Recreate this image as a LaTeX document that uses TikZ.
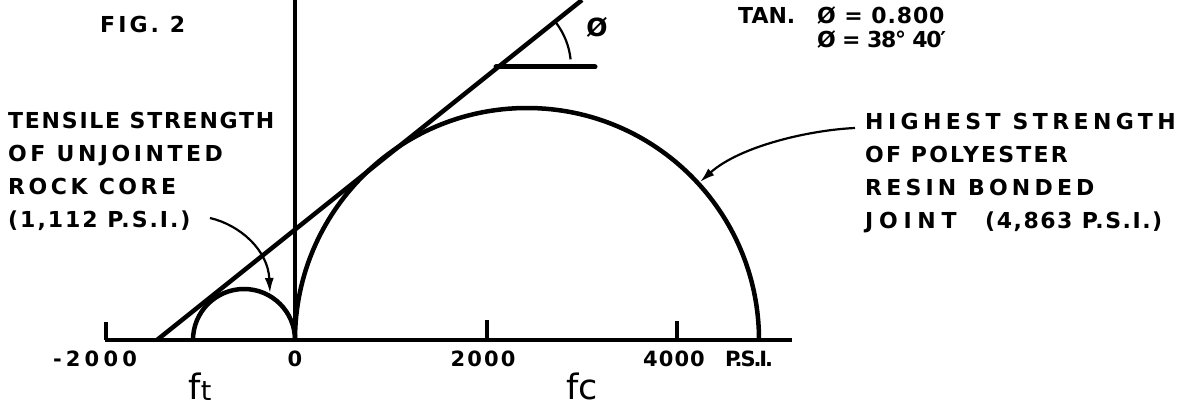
\documentclass[tikz,border=0pt]{standalone}
\usepackage{fontspec}
\setmainfont{DejaVu Sans}
\newfontfamily\lett{DejaVu Sans Bold}
\usetikzlibrary{arrows.meta}
\newcommand{\lsp}[1]{\addfontfeature{LetterSpace=#1}}
\tikzset{
  lab/.style={font=\lett\fontsize{22}{22}\selectfont, inner sep=0, anchor=base west},
  num/.style={font=\lett\fontsize{21}{21}\selectfont, inner sep=0, anchor=base},
  fl/.style={font=\fontsize{35}{35}\selectfont, inner sep=0, anchor=base},
  heavy/.style={line width=4.5pt},
  mid/.style={line width=3.6pt},
  lead/.style={line width=2.2pt, -{Latex[length=15pt,width=9pt]}},
}
\begin{document}
\begin{tikzpicture}[x=1pt,y=1pt]
\path[use as bounding box] (0,0) rectangle (1186,408);
% axes
\coordinate (axL) at (105,68);
\coordinate (axR) at (792,68);
\coordinate (o) at (295,68);
\coordinate (vtop) at (295,408);
\draw[heavy] (axL) -- (axR);
\draw[mid] (o) -- (vtop);
\draw[mid] (106,68) -- (106,86);
\draw[mid] (487,68) -- (487,88);
\draw[mid] (677,68) -- (677,87);
% circles
\draw[heavy] (759,68) arc[start angle=0,end angle=180,radius=232];
\draw[heavy] (o) arc[start angle=0,end angle=180,radius=51];
% tangent (envelope)
\coordinate (tA) at (157,68);
\coordinate (tB) at (582,408);
\draw[heavy] (tA) -- (tB);
% angle phi
\coordinate (hA) at (496,341);
\coordinate (hB) at (595,341);
\draw[line width=5pt,line cap=round] (hA) -- (hB);
\draw[line width=2.2pt] (570.6,348.6) arc[start angle=6,end angle=37,radius=73];
\node[font=\lett\fontsize{25}{25}\selectfont, inner sep=0, anchor=base] (phi) at (597,371) {Ø};
% texts
\node[lab] (fig) at (100,375) {\lsp{14}FIG. 2};
\node[lab] (tA1) at (8,280) {\lsp{8}TENSILE STRENGTH};
\node[lab] (tA2) at (8,247) {\lsp{16}OF UNJOINTED};
\node[lab] (tA3) at (8,214) {\lsp{16}ROCK CORE};
\node[lab] (tA4) at (8,181) {\lsp{9}(1,112 P.S.I.)};
\node[lab] (hB1) at (865,279) {\lsp{20}HIGHEST STRENGTH};
\node[lab] (hB2) at (865,246) {\lsp{10}OF POLYESTER};
\node[lab] (hB3) at (865,213) {\lsp{19}RESIN BONDED};
\node[lab] (hB4) at (865,180) {\lsp{26}JOINT};
\node[lab] (hB5) at (985,180) {\lsp{7}(4,863 P.S.I.)};
\node[lab] (tan) at (738,384) {TAN.};
\node[lab] (tanv) at (817,384) {\lsp{4}Ø = 0.800};
\node[lab] (phiv) at (817,360) {\lsp{-6}Ø = 38° 40′};
% axis labels
\node[num] (n1) at (95,42) {\lsp{20}-2000};
\node[num] (n0) at (295,42) {0};
\node[num] (n2) at (483,42) {\lsp{10}2000};
\node[num] (n4) at (674,42) {\lsp{5}4000};
\node[num, anchor=base west] (psi) at (725,42) {\lsp{-10}P.S.I.};
\node[fl] (ft) at (200,9) {f\raisebox{-1pt}{\fontsize{27}{27}\selectfont t}};
\node[fl] (fc) at (582,9) {fc};
% leaders
\coordinate (sTip) at (270,115);
\coordinate (bTip) at (700,226);
\coordinate (sStart) at (210,190);
\coordinate (bStart) at (855,280);
\draw[lead] (sStart) .. controls (240,183) and (268,158) .. (sTip);
\draw[lead] (bStart) .. controls (810,278) and (740,262) .. (bTip);
\end{tikzpicture}
\end{document}
